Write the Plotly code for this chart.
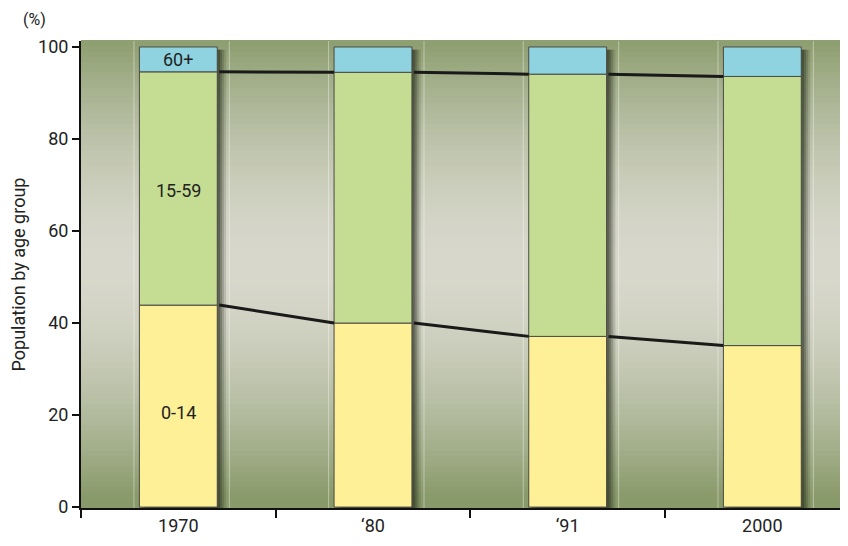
import plotly.graph_objects as go
import numpy as np

years = ["1970", "\u201880", "\u201891", "2000"]
age_0_14 = [43.9, 40.0, 37.1, 35.1]
age_15_59 = [50.7, 54.5, 57.0, 58.5]
age_60_plus = [5.4, 5.5, 5.9, 6.4]
y_ticks = [0, 20, 40, 60, 80, 100]
segment_labels = ["0-14", "15-59", "60+"]

xs = np.arange(len(years))
bw = 0.4
font = "Roboto, sans-serif"
txt = "#222222"

fig = go.Figure()

base1 = np.array(age_0_14)
base2 = base1 + np.array(age_15_59)
top = base2 + np.array(age_60_plus)

# soft drop shadow (right and bottom)
for k, (dx, dy, a) in enumerate([(0.045, 1.4, 0.15), (0.034, 1.0, 0.2),
                                  (0.024, 0.7, 0.26), (0.014, 0.4, 0.32)]):
    fig.add_trace(go.Bar(x=xs + dx, y=top - 0.6 + dy, base=-dy, width=bw,
                         marker=dict(color=f"rgba(35,40,25,{a})", line=dict(width=0)),
                         hoverinfo="skip", showlegend=False))

line_style = dict(color="#4a4a44", width=1)
fig.add_trace(go.Bar(x=xs, y=age_0_14, base=0, width=bw, name="0-14",
                     marker=dict(color="#fdf097", line=line_style)))
fig.add_trace(go.Bar(x=xs, y=age_15_59, base=base1, width=bw, name="15-59",
                     marker=dict(color="#c5dd93", line=line_style)))
fig.add_trace(go.Bar(x=xs, y=age_60_plus, base=base2, width=bw, name="60+",
                     marker=dict(color="#8fd3e1", line=line_style)))

# connecting lines between bars
for series in (base1, base2):
    lx, ly = [], []
    for i in range(len(xs) - 1):
        lx += [xs[i] + bw / 2 + 0.01, xs[i + 1] - bw / 2, None]
        ly += [series[i], series[i + 1], None]
    fig.add_trace(go.Scatter(x=lx, y=ly, mode="lines",
                             line=dict(color="#1a1a1a", width=3),
                             hoverinfo="skip", showlegend=False))

# background gradient
shapes = []
n = 90
c_edge = np.array([0x88, 0x9a, 0x69])
c_mid = np.array([0xd8, 0xd8, 0xcc])
for i in range(n):
    t0 = i / n
    t1 = (i + 1) / n
    tm = (t0 + t1) / 2
    d = abs(tm - 0.52) / 0.5
    f = min(1.0, d) ** 1.7
    c = c_mid + (c_edge - c_mid) * f
    shapes.append(dict(type="rect", xref="paper", yref="paper", x0=0, x1=1,
                       y0=t0, y1=t1 + 0.002, layer="below",
                       fillcolor=f"rgb({int(c[0])},{int(c[1])},{int(c[2])})",
                       line=dict(width=0)))
# faint vertical lines
for x in xs:
    for off in (-0.228, 0.262):
        shapes.append(dict(type="line", xref="x", yref="paper", x0=x + off, x1=x + off,
                           y0=0, y1=1, layer="below",
                           line=dict(color="rgba(255,255,255,0.4)", width=1)))

annotations = [
    dict(x=0, y=20.5, text=segment_labels[0], showarrow=False,
         font=dict(size=18, color=txt, family=font)),
    dict(x=0, y=68.8, text=segment_labels[1], showarrow=False,
         font=dict(size=18, color=txt, family=font)),
    dict(x=0, y=97.3, text=segment_labels[2], showarrow=False,
         font=dict(size=18, color=txt, family=font)),
    dict(x=-0.06, y=1.047, xref="paper", yref="paper", text="(%)", showarrow=False,
         xanchor="center", yanchor="middle", font=dict(size=16, color=txt, family=font)),
]

fig.update_layout(
    width=840, height=538,
    barmode="overlay",
    showlegend=False,
    paper_bgcolor="white",
    plot_bgcolor="rgba(0,0,0,0)",
    margin=dict(l=73, r=0, t=33, b=38, autoexpand=False),
    shapes=shapes,
    annotations=annotations,
    xaxis=dict(range=[-0.5, 3.44], tickvals=list(xs), ticktext=years,
               ticks="", showgrid=False, zeroline=False, automargin=False,
               showline=True, linecolor="#111", linewidth=2,
               tickfont=dict(size=18, color=txt, family=font),
               minor=dict(ticks="outside", tick0=-0.5, dtick=1, ticklen=8,
                          tickcolor="#111", tickwidth=2, showgrid=False)),
    yaxis=dict(range=[-0.2, 101.3], tickvals=y_ticks, ticks="outside",
               ticklen=7, tickcolor="#111", tickwidth=2, automargin=False,
               showgrid=False, zeroline=False,
               showline=True, linecolor="#111", linewidth=2,
               tickfont=dict(size=18, color=txt, family=font),
               title=dict(text="Population by age group", standoff=10,
                          font=dict(size=18, color=txt, family=font))),
)

fig.write_html("out.html")
